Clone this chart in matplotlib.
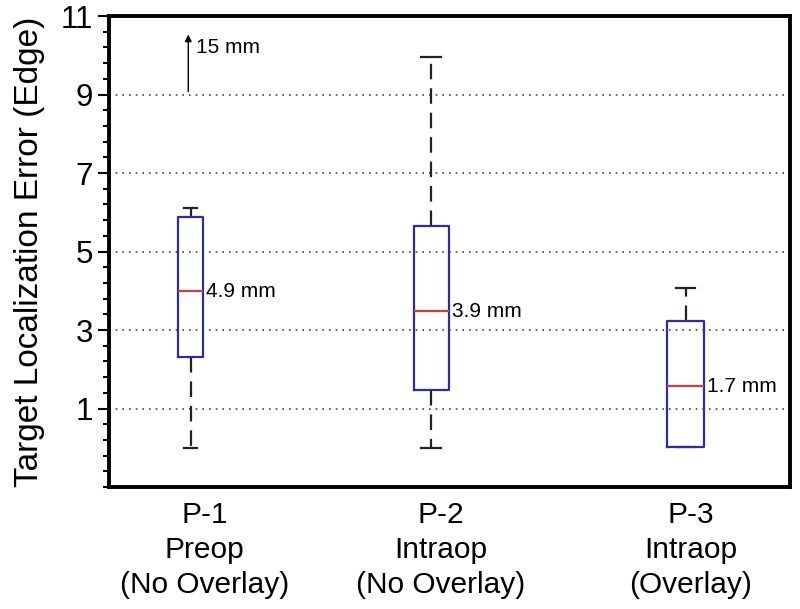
import matplotlib
matplotlib.use('Agg')
import matplotlib.pyplot as plt
import numpy as np

plt.rcParams['font.family'] = ['Liberation Sans', 'DejaVu Sans']

# Box plot summary values (mm)
groups = ['P-1\nPreop\n(No Overlay)', 'P-2\nIntraop\n(No Overlay)', 'P-3\nIntraop\n(Overlay)']
whisker_low = [0.0, 0.0, 0.02]
q1 = [2.31, 1.47, 0.02]
medians = [3.99, 3.48, 1.57]
q3 = [5.88, 5.65, 3.23]
whisker_high = [6.11, 9.96, 4.07]
mean_labels = ['4.9 mm', '3.9 mm', '1.7 mm']

# box centres and label centres are not quite the same in the original
positions = [0.86, 1.92, 3.04]
label_positions = [0.923, 1.963, 3.064]
box_widths = [0.11, 0.154, 0.163]
cap_widths = [0.06, 0.09, 0.08]

stats = []
for i in range(len(groups)):
    stats.append({'whislo': whisker_low[i], 'q1': q1[i], 'med': medians[i],
                  'q3': q3[i], 'whishi': whisker_high[i], 'fliers': []})

fig = plt.figure(figsize=(8, 6.09), dpi=100)
ax = fig.add_axes([0.136, 0.2003, 0.8515, 0.7734])

ax.bxp(stats, positions=positions, widths=box_widths, capwidths=cap_widths,
       showfliers=False, manage_ticks=False,
       boxprops=dict(color='#2b2bb0', linewidth=1.6, zorder=3),
       medianprops=dict(color='#d83a3a', linewidth=1.6, zorder=3),
       whiskerprops=dict(color='#222222', linewidth=1.6, linestyle=(0, (7, 4)), zorder=2),
       capprops=dict(color='#222222', linewidth=1.6, zorder=2))

# Mean labels beside each box
for i, lab in enumerate(mean_labels):
    ax.text(positions[i] + box_widths[i] / 2 + 0.015, medians[i], lab,
            fontsize=15, va='center', ha='left')

# Off-scale arrow for P-1
ax.annotate('', xy=(positions[0] - 0.01, 10.6), xytext=(positions[0] - 0.01, 9.0),
            arrowprops=dict(arrowstyle='-|>', color='black', lw=1.0, mutation_scale=10))
ax.text(positions[0] + 0.025, 10.2, '15 mm', fontsize=15, va='center', ha='left')

ax.set_xlim(0.5, 3.5)
ax.set_ylim(-1, 11)
ax.set_yticks([1, 3, 5, 7, 9, 11])
ax.set_yticks(np.arange(-1, 11.01, 0.4), minor=True)
ax.set_xticks(label_positions)
ax.set_xticklabels(groups, fontsize=21.5, linespacing=1.33)
ax.tick_params(axis='y', which='major', labelsize=22.5, direction='out', length=8, width=1.5)
ax.tick_params(axis='y', which='minor', direction='out', length=4.5, width=1.5)
ax.tick_params(axis='x', length=0, pad=10)
ax.set_ylabel('Target Localization Error (Edge)', fontsize=24, labelpad=11)

for y in [1, 3, 5, 7, 9]:
    ax.axhline(y, color='#444444', linewidth=1.2, linestyle=(0, (1, 3)), zorder=0)

for sp in ax.spines.values():
    sp.set_linewidth(2.8)
    sp.set_color('black')

fig.savefig('out.png', dpi=100)
